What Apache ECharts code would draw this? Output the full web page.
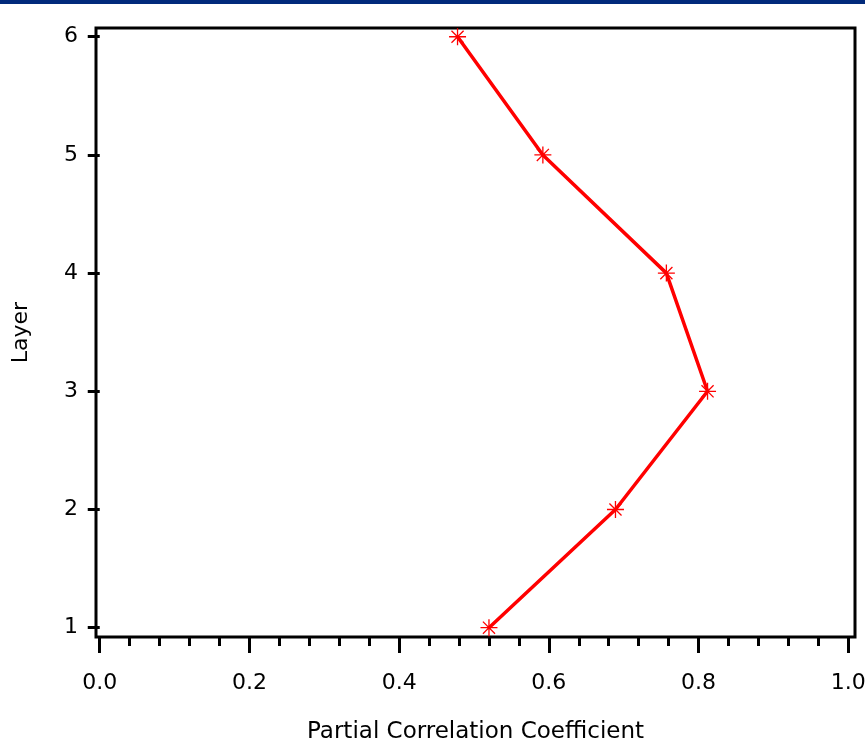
<!DOCTYPE html>
<html>
<head>
<meta charset="utf-8">
<script src="https://cdn.jsdelivr.net/npm/echarts@6/dist/echarts.min.js"></script>
<style>
html,body{margin:0;padding:0;background:#fff;}
#chart{width:865px;height:745px;}
</style>
</head>
<body>
<div id="chart"></div>
<script>
// Data
var layers = [1, 2, 3, 4, 5, 6];
var partialCorr = [0.520, 0.689, 0.812, 0.757, 0.592, 0.478];
var xMajorTicks = [0, 0.2, 0.4, 0.6, 0.8, 1.0];
var xMinorTicks = [0.04, 0.08, 0.12, 0.16, 0.24, 0.28, 0.32, 0.36, 0.44, 0.48, 0.52, 0.56,
                   0.64, 0.68, 0.72, 0.76, 0.84, 0.88, 0.92, 0.96];
var yTicks = [1, 2, 3, 4, 5, 6];
var xTitle = 'Partial Correlation Coefficient';
var yTitle = 'Layer';

var seriesData = layers.map(function (l, i) { return [partialCorr[i], l]; });
var FONT = 'DejaVu Sans';
var chart = echarts.init(document.getElementById('chart'), null, {renderer: 'canvas'});
var xMin = -0.005, xMax = 1.009, yMin = 0.921, yMax = 6.074;

chart.setOption({
  animation: false,
  backgroundColor: '#ffffff',
  graphic: [{
    type: 'rect', left: 0, top: 0, shape: {width: 865, height: 4},
    style: {fill: '#012a7b'}, z: 10
  }],
  grid: {
    left: 96, top: 28, right: 10, bottom: 108,
    containLabel: false, outerBoundsMode: 'none',
    show: true, borderColor: '#000', borderWidth: 3, backgroundColor: 'transparent'
  },
  xAxis: [{
    type: 'value', min: xMin, max: xMax, position: 'bottom',
    name: xTitle, nameLocation: 'middle', nameGap: 84,
    nameTextStyle: {fontFamily: FONT, fontSize: 23, color: '#000'},
    splitLine: {show: false},
    axisLine: {show: false},
    axisTick: {show: true, customValues: xMajorTicks, length: 16, lineStyle: {color: '#000', width: 3}},
    axisLabel: {
      customValues: xMajorTicks, margin: 35, fontFamily: FONT, fontSize: 22, color: '#000',
      formatter: function (v) { return v.toFixed(1); }
    }
  }, {
    type: 'value', min: xMin, max: xMax, position: 'bottom',
    splitLine: {show: false},
    axisLine: {show: false},
    axisTick: {show: true, customValues: xMinorTicks, length: 9, lineStyle: {color: '#000', width: 3}},
    axisLabel: {show: false}
  }],
  yAxis: {
    type: 'value', min: yMin, max: yMax,
    name: yTitle, nameLocation: 'middle', nameGap: 64,
    nameTextStyle: {fontFamily: FONT, fontSize: 22, color: '#000'},
    splitLine: {show: false},
    axisLine: {show: false},
    axisTick: {show: true, customValues: yTicks, length: 12, lineStyle: {color: '#000', width: 3}},
    axisLabel: {
      customValues: yTicks, margin: 18, fontFamily: FONT, fontSize: 22, color: '#000',
      formatter: function (v) { return String(Math.round(v)); }
    }
  },
  series: [{
    type: 'line',
    data: seriesData,
    xAxisIndex: 0,
    symbol: 'path://M0,-8L0,8M-8,0L8,0M-5.7,-5.7L5.7,5.7M-5.7,5.7L5.7,-5.7',
    symbolSize: 17,
    symbolKeepAspect: true,
    itemStyle: {color: '#ff0000', borderColor: '#ff0000', borderWidth: 1.3},
    lineStyle: {color: '#ff0000', width: 3.5},
    z: 5
  }]
});
</script>
</body>
</html>
